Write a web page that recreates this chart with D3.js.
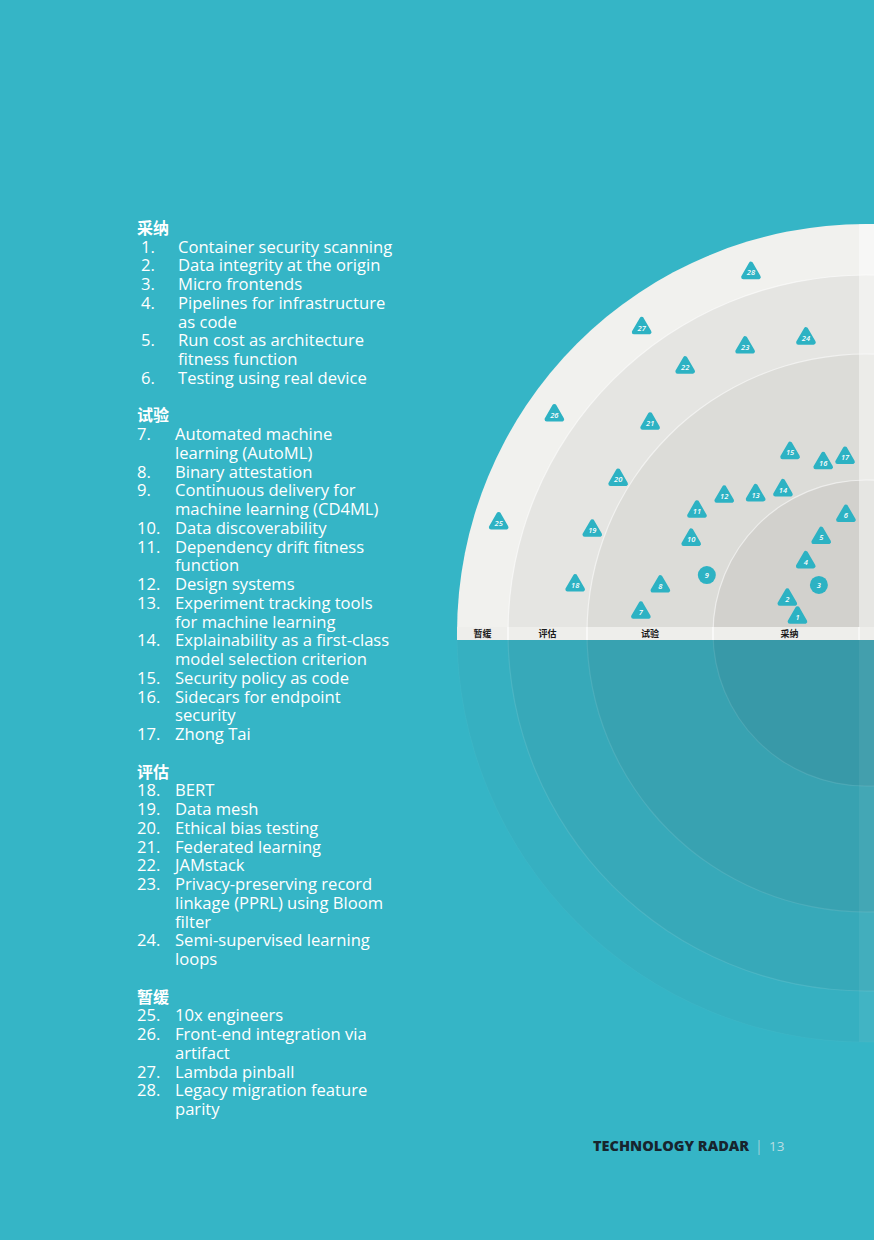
<!DOCTYPE html>
<html><head><meta charset="utf-8">
<script src="https://cdn.jsdelivr.net/npm/d3@7"></script>
<style>
html,body{margin:0;padding:0;background:#35b5c6;}
svg{display:block;}
</style></head>
<body>
<svg id="chart" width="874" height="1240"></svg>
<script>
// ---- data ----
const rings = ["采纳", "试验", "评估", "暂缓"];
const ringItems = [
  ["Container security scanning", "Data integrity at the origin", "Micro frontends",
   "Pipelines for infrastructure|as code", "Run cost as architecture|fitness function", "Testing using real device"],
  ["Automated machine|learning (AutoML)", "Binary attestation", "Continuous delivery for|machine learning (CD4ML)",
   "Data discoverability", "Dependency drift fitness|function", "Design systems",
   "Experiment tracking tools|for machine learning", "Explainability as a first-class|model selection criterion",
   "Security policy as code", "Sidecars for endpoint|security", "Zhong Tai"],
  ["BERT", "Data mesh", "Ethical bias testing", "Federated learning", "JAMstack",
   "Privacy-preserving record|linkage (PPRL) using Bloom|filter", "Semi-supervised learning|loops"],
  ["10x engineers", "Front-end integration via|artifact", "Lambda pinball", "Legacy migration feature|parity"]
];
// blips: radial position in ring units (0 = centre, 1..4 = ring edges), angle in degrees above the horizontal
const blipIds    = [1,2,3,4,5,6,7,8,9,10,11,12,13,14,15,16,17,18,19,20,21,22,23,24,25,26,27,28];
const blipRadius = [0.46,0.56,0.44,0.61,0.69,0.78, 1.58,1.46,1.13,1.36,1.44,1.35,1.19,1.10,1.34,1.18,1.19,
                    2.20,2.17,2.16,2.28,2.54,2.40,2.28, 3.50,3.44,3.41,3.40];
const blipAngle  = [13.1,23.3,45.6,49.8,64.9,80.3, 5.3,12.9,20.0,28.2,35.8,44.0,51.4,59.9,67.2,75.9,83.2,
                    9.4,20.6,31.8,44.2,55.8,67.1,78.5, 16.7,35.0,53.7,72.3];
const blipShape  = ["t","t","c","t","t","t", "t","t","c","t","t","t","t","t","t","t","t",
                    "t","t","t","t","t","t","t", "t","t","t","t"];
const footerTitle = "TECHNOLOGY RADAR";
const pageNumber = "13";

// ---- layout ----
const svg = d3.select("#chart");
const W = 874, H = 1240;
svg.append("rect").attr("width", W).attr("height", H).attr("fill", "#35b5c6");

const cx = 866, cy = 633;
const r = d3.scaleLinear().domain([0, 1, 2, 3, 4]).range([0, 153, 279, 358, 409]);
const ang = d3.scaleLinear().domain([0, 90]).range([0, Math.PI / 2]);

const g = svg.append("g").attr("transform", `translate(${cx},${cy})`);
const upperFill = ["#d2d1cd", "#dcdcd8", "#e5e5e2", "#f1f1ee"];
const lowerFill = ["#3899a8", "#38a2b1", "#37a9b9", "#36b0c1"];
const arc = d3.arc();

// lower half (largest to smallest)
for (let i = 3; i >= 0; i--) {
  g.append("path")
    .attr("d", arc({innerRadius: 0, outerRadius: r(i + 1), startAngle: 0.5 * Math.PI, endAngle: 1.5 * Math.PI}))
    .attr("fill", lowerFill[i]);
  g.append("path")
    .attr("d", arc({innerRadius: r(i + 1) - 0.6, outerRadius: r(i + 1) + 0.6, startAngle: 0.5 * Math.PI, endAngle: 1.5 * Math.PI}))
    .attr("fill", "#ffffff").attr("opacity", i === 3 ? 0.03 : 0.1);
}
// upper half
for (let i = 3; i >= 0; i--) {
  g.append("path")
    .attr("d", arc({innerRadius: 0, outerRadius: r(i + 1), startAngle: -0.5 * Math.PI, endAngle: 0.5 * Math.PI}))
    .attr("fill", upperFill[i]);
  if (i < 3) {
    g.append("path")
      .attr("d", arc({innerRadius: r(i + 1) - 0.6, outerRadius: r(i + 1) + 0.6, startAngle: -0.5 * Math.PI, endAngle: 0.5 * Math.PI}))
      .attr("fill", "#ffffff").attr("opacity", 0.55);
  }
}
// right lighter strip (page gutter)
const stripX = 859;
const yTopAtStrip = cy - Math.sqrt(r(4) * r(4) - (cx - stripX) * (cx - stripX));
svg.append("rect").attr("x", stripX).attr("y", yTopAtStrip).attr("width", W - stripX).attr("height", cy - yTopAtStrip)
  .attr("fill", "#ffffff").attr("opacity", 0.45);
svg.append("rect").attr("x", stripX).attr("y", cy).attr("width", W - stripX).attr("height", cy - yTopAtStrip)
  .attr("fill", "#ffffff").attr("opacity", 0.06);

// label bar
const barTop = 627, barH = 13;
svg.append("rect").attr("x", cx - r(4)).attr("y", barTop).attr("width", W - (cx - r(4))).attr("height", barH)
  .attr("fill", "#eeeeeb");
[1, 2, 3].forEach(k => {
  svg.append("line").attr("x1", cx - r(k)).attr("x2", cx - r(k)).attr("y1", barTop).attr("y2", barTop + barH)
    .attr("stroke", "#ffffff").attr("stroke-width", 1.2);
});
svg.append("line").attr("x1", stripX).attr("x2", stripX).attr("y1", barTop).attr("y2", barTop + barH)
  .attr("stroke", "#ffffff").attr("stroke-width", 1);
rings.forEach((name, i) => {
  svg.append("text")
    .attr("x", cx - (r(i) + r(i + 1)) / 2)
    .attr("y", barTop + barH / 2 + 3.3)
    .attr("text-anchor", "middle")
    .attr("font-family", "'Noto Sans CJK SC', sans-serif")
    .attr("font-weight", 700)
    .attr("font-size", 9)
    .attr("fill", "#1b1b1b")
    .text(name);
});

// blips
const blipColor = "#2db2c3";
const blips = blipIds.map((id, i) => {
  const rr = r(blipRadius[i]), a = ang(blipAngle[i]);
  return {id, shape: blipShape[i], x: cx - rr * Math.cos(a), y: cy - rr * Math.sin(a)};
});
const bg = svg.append("g");
blips.forEach(b => {
  const gb = bg.append("g").attr("transform", `translate(${b.x},${b.y})`);
  if (b.shape === "c") {
    gb.append("circle").attr("r", 9).attr("fill", blipColor);
  } else {
    gb.append("path").attr("d", "M0,-8.6L7.6,4.5L-7.6,4.5Z")
      .attr("fill", blipColor).attr("stroke", blipColor)
      .attr("stroke-width", 4.4).attr("stroke-linejoin", "round");
  }
  gb.append("text").attr("y", 2.9).attr("text-anchor", "middle")
    .attr("font-family", "'Open Sans', sans-serif").attr("font-style", "italic")
    .attr("font-weight", 600)
    .attr("font-size", 7.5).attr("fill", "#ffffff").text(b.id);
});

// list on the left
const lineStep = 18.75, fs = 16.6;
let line = 0, num = 1;
const top0 = 228;
const lg = svg.append("g");
rings.forEach((name, s) => {
  lg.append("text").attr("x", 137).attr("y", top0 + line * lineStep + 5.8)
    .attr("font-family", "'Noto Sans CJK SC', sans-serif").attr("font-weight", 700)
    .attr("font-size", 16).attr("fill", "#ffffff").text(name);
  line++;
  ringItems[s].forEach(item => {
    const parts = item.split("|");
    const nx = s === 0 ? 141 : 137, tx = s === 0 ? 178 : 175;
    lg.append("text").attr("x", nx).attr("y", top0 + line * lineStep + 5.8)
      .attr("font-family", "'Open Sans', sans-serif").attr("font-size", fs)
      .attr("fill", "#ffffff").text(num + ".");
    parts.forEach(p => {
      lg.append("text").attr("x", tx).attr("y", top0 + line * lineStep + 5.8)
        .attr("font-family", "'Open Sans', sans-serif").attr("font-size", fs)
        .attr("fill", "#ffffff").text(p);
      line++;
    });
    num++;
  });
  line++;
});

// footer
svg.append("text").attr("x", 593).attr("y", 1151)
  .attr("font-family", "'Open Sans', sans-serif").attr("font-size", 14.5)
  .attr("font-weight", 800).attr("fill", "#17252e").text(footerTitle);
svg.append("text").attr("x", 755).attr("y", 1151)
  .attr("font-family", "'Open Sans', sans-serif").attr("font-size", 14).attr("fill", "#9fd2da").text("|");
svg.append("text").attr("x", 769).attr("y", 1151)
  .attr("font-family", "'Open Sans', sans-serif").attr("font-size", 13.5).attr("fill", "#b9dde2").text(pageNumber);
</script>
</body></html>
